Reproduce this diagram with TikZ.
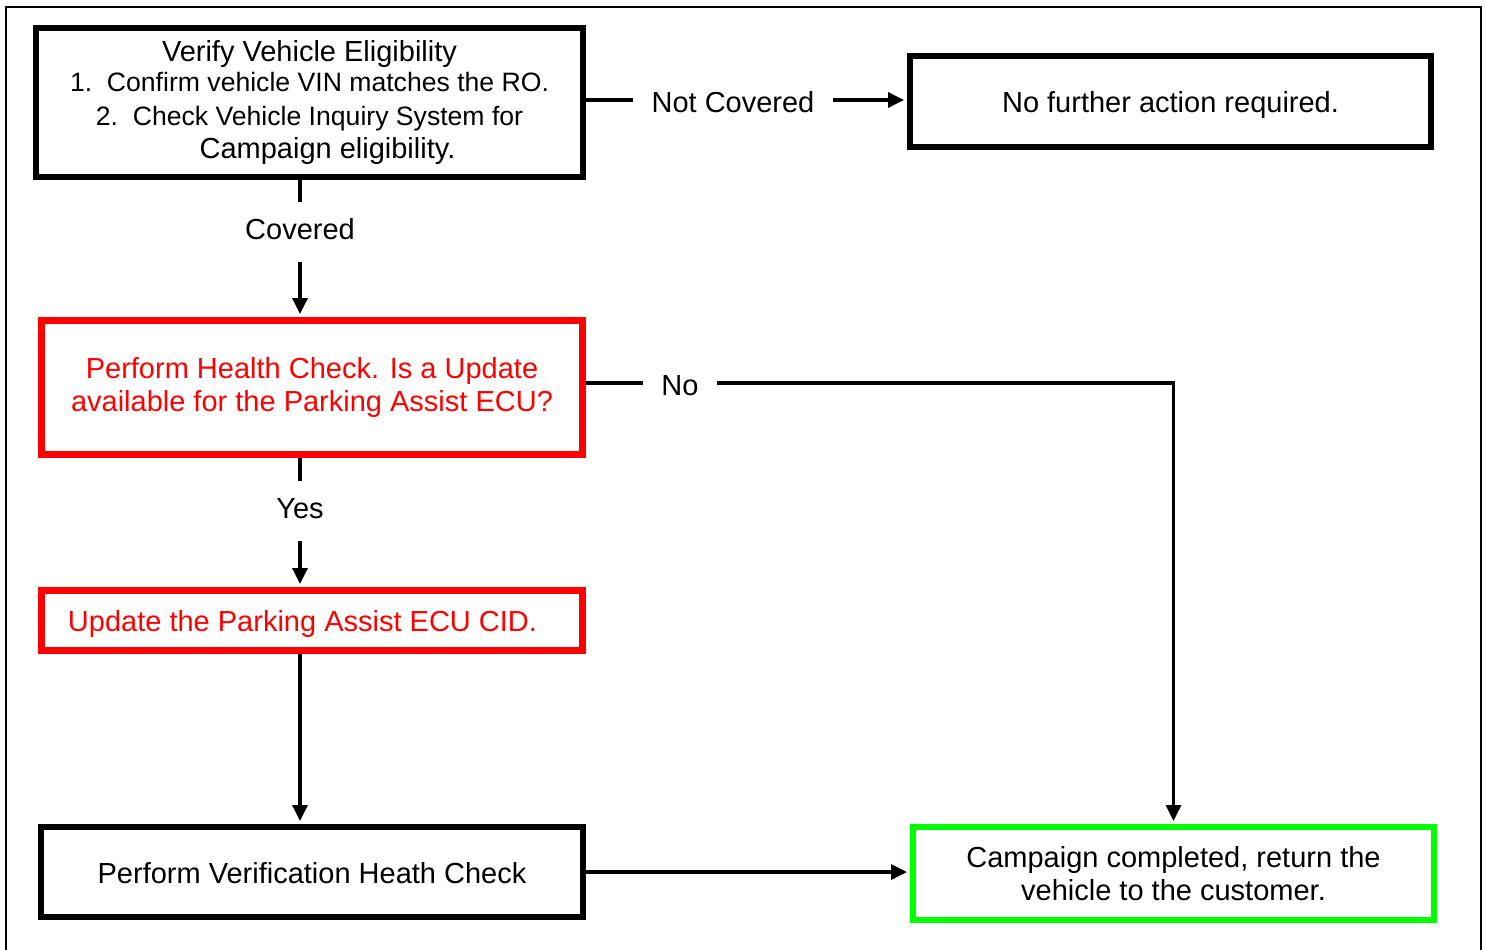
\documentclass[tikz,border=0pt]{standalone}
\usepackage{fontspec}
\setmainfont{Liberation Sans}
\usetikzlibrary{arrows.meta}

\begin{document}
\begin{tikzpicture}[x=0.5pt,y=-0.5pt,
  box/.style={draw,line width=3pt,align=center,inner sep=0pt,font=\fontsize{14.5}{16.7}\selectfont},
  tdown/.style={execute at begin node={\rule{0pt}{#1}}},
  lbl/.style={inner xsep=9pt,inner ysep=8pt,text height=10.5pt,text depth=3pt,font=\fontsize{14.5}{16.7}\selectfont},
  hlbl/.style={lbl,text height=15.5pt},
  line/.style={line width=1.7pt},
  arr/.style={line width=1.7pt,-{Triangle[length=8pt,width=7.5pt]},shorten >=1.5pt}]
\definecolor{redline}{HTML}{FF0000}
\definecolor{greenline}{HTML}{00FF00}
\clip (0,0) rectangle (1486,949);
\draw[line width=1pt] (6,7) rectangle (1481,1000);
% boxes
\node[box,tdown=17.5pt,minimum width=273.5pt,minimum height=74.5pt] (verify) at (309.5,102.5)
  {Verify Vehicle Eligibility\\[-1.5pt]
   {\fontsize{13.3}{16.7}\selectfont 1.\ \ Confirm vehicle VIN matches the RO.}\\
   {\fontsize{13.3}{16.7}\selectfont 2.\ \ Check Vehicle Inquiry System for}\\
   \hspace*{18pt}Campaign eligibility.};
\node[box,tdown=14pt,minimum width=260.5pt,minimum height=45.5pt] (nofurther) at (1170.5,101.5)
  {No further action required.};
\node[box,tdown=17.5pt,draw=redline,text=redline,line width=3.5pt,minimum width=270.5pt,minimum height=67pt] (health) at (312,387.5)
  {Perform Health Check. Is a Update\\available for the Parking Assist ECU?};
\node[box,tdown=14pt,draw=redline,text=redline,line width=3.5pt,minimum width=270.5pt,minimum height=30pt] (update) at (312,620.5)
  {Update the Parking Assist ECU CID.\hspace*{9.5pt}};
\node[box,tdown=12pt,minimum width=271pt,minimum height=45pt] (verif) at (312,872)
  {Perform Verification Heath Check};
\node[box,tdown=12pt,draw=greenline,minimum width=260.5pt,minimum height=46.5pt] (done) at (1173.5,873.5)
  {Campaign completed, return the\\vehicle to the customer.};
% labels
\node[lbl] (covered) at (300,232) {Covered};
\node[lbl] (yes) at (300,511) {Yes};
\node[hlbl] (nocov) at (733,100) {Not Covered};
\node[hlbl] (no) at (680,383) {No};
% connectors
\draw[line] (verify.east |- nocov) -- (nocov);
\draw[arr] (nocov) -- (nofurther.west |- nocov);
\draw[line] (verify.south -| covered) -- (covered);
\draw[arr] (covered) -- (health.north -| covered);
\draw[line] (health.east |- no) -- (no);
\draw[arr] (no) -| (done.north);
\draw[line] (health.south -| yes) -- (yes);
\draw[arr] (yes) -- (update.north -| yes);
\draw[arr] (update.south -| yes) -- (verif.north -| yes);
\draw[arr] (verif.east) -- (verif.east -| done.west);
\end{tikzpicture}
\end{document}
